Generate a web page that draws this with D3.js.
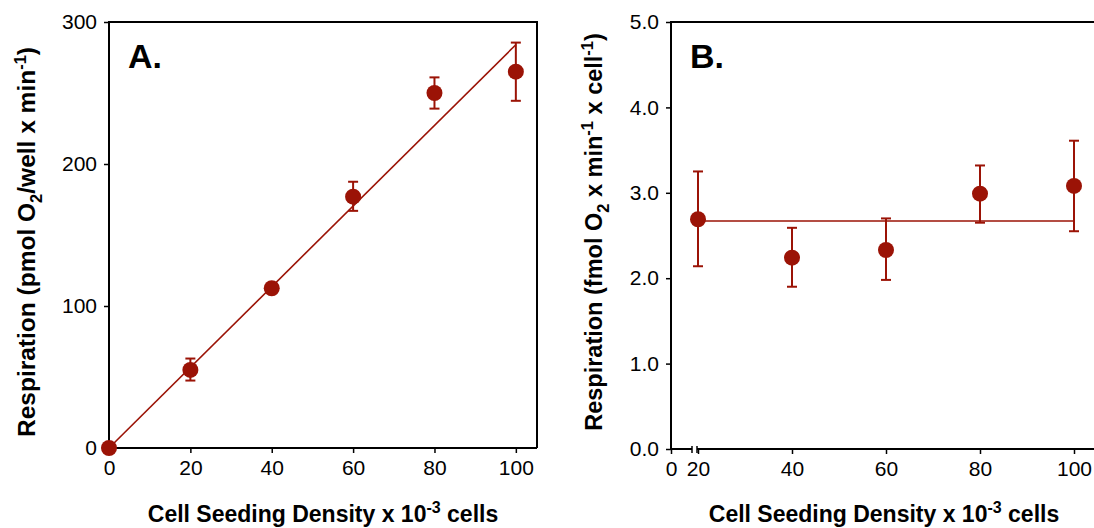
<!DOCTYPE html>
<html>
<head>
<meta charset="utf-8">
<script src="https://cdn.jsdelivr.net/npm/d3@7"></script>
<style>
  body { margin: 0; background: #fff; }
  svg { display: block; font-family: "Liberation Sans", Arial, sans-serif; }
</style>
</head>
<body>
<div id="chart"></div>
<script>
// data
const densityA = [0, 20, 40, 60, 80, 100];
const respA = [0, 55, 112.5, 177, 250, 265];
const lowA = [0, 47.5, 112.5, 167, 239, 244.5];
const highA = [0, 63, 112.5, 187.5, 261, 285.5];
const fitA = [[0, 0], [100, 284]];
const ticksAx = [0, 20, 40, 60, 80, 100];
const ticksAy = [0, 100, 200, 300];

const densityB = [20, 40, 60, 80, 100];
const respB = [2.69, 2.24, 2.33, 2.99, 3.08];
const lowB = [2.14, 1.90, 1.98, 2.65, 2.55];
const highB = [3.25, 2.59, 2.70, 3.32, 3.61];
const fitB = [[20, 2.67], [100, 2.67]];
const ticksBx = [0, 20, 40, 60, 80, 100];
const ticksBy = [0, 1, 2, 3, 4, 5];

const width = 1094;
const height = 528;
const red = "#9b1306";

const svg = d3.select("#chart")
    .append("svg")
    .attr("width", width)
    .attr("height", height);

const drawPanel = (p) => {
    const g = svg.append("g");

    // frame (top + right)
    g.append("path")
        .attr("d", `M${p.left},${p.top}H${p.right}V${p.bottom}`)
        .attr("fill", "none")
        .attr("stroke", "#000")
        .attr("stroke-width", 2);

    const xAxis = g.append("g")
        .attr("transform", `translate(0,${p.bottom})`)
        .call(d3.axisBottom(p.x).tickValues(p.xTicks).tickSize(5).tickPadding(7).tickFormat(d3.format("d")));
    const yAxis = g.append("g")
        .attr("transform", `translate(${p.left},0)`)
        .call(d3.axisLeft(p.y).tickValues(p.yTicks).tickSize(5).tickPadding(7).tickFormat(p.yFormat));

    [xAxis, yAxis].forEach(a => {
        a.select(".domain").remove();
        a.selectAll("line").attr("stroke-width", 1.5);
        a.selectAll("text")
            .attr("fill", "#000")
            .style("font-size", "21px")
            .style("font-family", "'Liberation Sans', Arial, sans-serif");
    });

    // axis lines
    g.append("line")
        .attr("x1", p.left).attr("x2", p.left)
        .attr("y1", p.top - 1).attr("y2", p.bottom + 1)
        .attr("stroke", "#000").attr("stroke-width", 2);

    if (p.breakAt != null) {
        const xb = p.x(p.breakAt);
        g.append("line")
            .attr("x1", p.left).attr("x2", xb - 6)
            .attr("y1", p.bottom).attr("y2", p.bottom)
            .attr("stroke", "#000").attr("stroke-width", 2);
        g.append("line")
            .attr("x1", xb - 1).attr("x2", p.right)
            .attr("y1", p.bottom).attr("y2", p.bottom)
            .attr("stroke", "#000").attr("stroke-width", 2);
        [xb - 6, xb - 1].forEach(bx => {
            g.append("line")
                .attr("x1", bx).attr("x2", bx)
                .attr("y1", p.bottom - 3).attr("y2", p.bottom + 4)
                .attr("stroke", "#000").attr("stroke-width", 1.5);
        });
    } else {
        g.append("line")
            .attr("x1", p.left).attr("x2", p.right)
            .attr("y1", p.bottom).attr("y2", p.bottom)
            .attr("stroke", "#000").attr("stroke-width", 2);
    }

    // fit line
    g.append("path")
        .datum(p.fit)
        .attr("d", d3.line().x(d => p.x(d[0])).y(d => p.y(d[1])))
        .attr("fill", "none")
        .attr("stroke", red)
        .attr("stroke-width", 1.6);

    const pts = p.xs.map((d, i) => ({ x: d, y: p.ys[i], lo: p.lo[i], hi: p.hi[i] }));

    // error bars
    const eb = g.selectAll(".err")
        .data(pts.filter(d => d.hi > d.lo))
        .join("g")
        .attr("class", "err")
        .attr("stroke", red)
        .attr("stroke-width", 2);
    eb.append("line")
        .attr("x1", d => p.x(d.x)).attr("x2", d => p.x(d.x))
        .attr("y1", d => p.y(d.lo)).attr("y2", d => p.y(d.hi));
    eb.append("line")
        .attr("x1", d => p.x(d.x) - 5).attr("x2", d => p.x(d.x) + 5)
        .attr("y1", d => p.y(d.lo)).attr("y2", d => p.y(d.lo));
    eb.append("line")
        .attr("x1", d => p.x(d.x) - 5).attr("x2", d => p.x(d.x) + 5)
        .attr("y1", d => p.y(d.hi)).attr("y2", d => p.y(d.hi));

    g.selectAll(".dot")
        .data(pts)
        .join("circle")
        .attr("class", "dot")
        .attr("cx", d => p.x(d.x))
        .attr("cy", d => p.y(d.y))
        .attr("r", 8)
        .attr("fill", red);

    // panel letter
    g.append("text")
        .attr("x", p.left + 19)
        .attr("y", p.top + 46)
        .attr("font-size", 34)
        .attr("font-weight", "bold")
        .text(p.letter);

    // x title
    const xt = g.append("text")
        .attr("x", p.xTitleX)
        .attr("y", 522)
        .attr("text-anchor", "middle")
        .attr("font-size", 23)
        .attr("font-weight", "bold");
    xt.append("tspan").text("Cell Seeding Density x 10");
    xt.append("tspan").attr("dy", -9).attr("font-size", 16).text("-3");
    xt.append("tspan").attr("dy", 9).text(" cells");

    // y title
    const yt = g.append("text")
        .attr("transform", `translate(${p.yTitleX},${p.yTitleY}) rotate(-90)`)
        .attr("text-anchor", "middle")
        .attr("font-size", p.yTitleSize)
        .attr("font-weight", "bold");
    p.yTitle.forEach(s => {
        const t = yt.append("tspan").text(s.t);
        if (s.sub) t.attr("dy", 7).attr("font-size", 16.5);
        if (s.sup) t.attr("dy", -9).attr("font-size", 16.5);
        if (s.back) t.attr("dy", s.back);
    });
};

const xA = d3.scaleLinear().domain([0, 105.2]).range([109, 537]);
const yA = d3.scaleLinear().domain([0, 300]).range([448, 22]);

drawPanel({
    left: 109, right: 537, top: 22, bottom: 448,
    x: xA, y: yA,
    xTicks: ticksAx, yTicks: ticksAy, yFormat: d3.format("d"),
    xs: densityA, ys: respA, lo: lowA, hi: highA, fit: fitA,
    letter: "A.",
    xTitleX: 323, yTitleX: 35, yTitleY: 242, yTitleSize: 24.5,
    yTitle: [
        { t: "Respiration (pmol O" },
        { t: "2", sub: true },
        { t: "/well x min", back: -7 },
        { t: "-1", sup: true },
        { t: ")", back: 9 }
    ]
});

const xB = d3.scaleLinear().domain([0, 20, 100]).range([671, 698, 1074]);
const yB = d3.scaleLinear().domain([0, 5]).range([449, 22]);

drawPanel({
    left: 671, right: 1097, top: 22, bottom: 449,
    x: xB, y: yB, breakAt: 20,
    xTicks: ticksBx, yTicks: ticksBy, yFormat: d3.format(".1f"),
    xs: densityB, ys: respB, lo: lowB, hi: highB, fit: fitB,
    letter: "B.",
    xTitleX: 884, yTitleX: 602, yTitleY: 232, yTitleSize: 23.5,
    yTitle: [
        { t: "Respiration (fmol O" },
        { t: "2", sub: true },
        { t: " x min", back: -7 },
        { t: "-1", sup: true },
        { t: " x cell", back: 9 },
        { t: "-1", sup: true },
        { t: ")", back: 9 }
    ]
});
</script>
</body>
</html>
